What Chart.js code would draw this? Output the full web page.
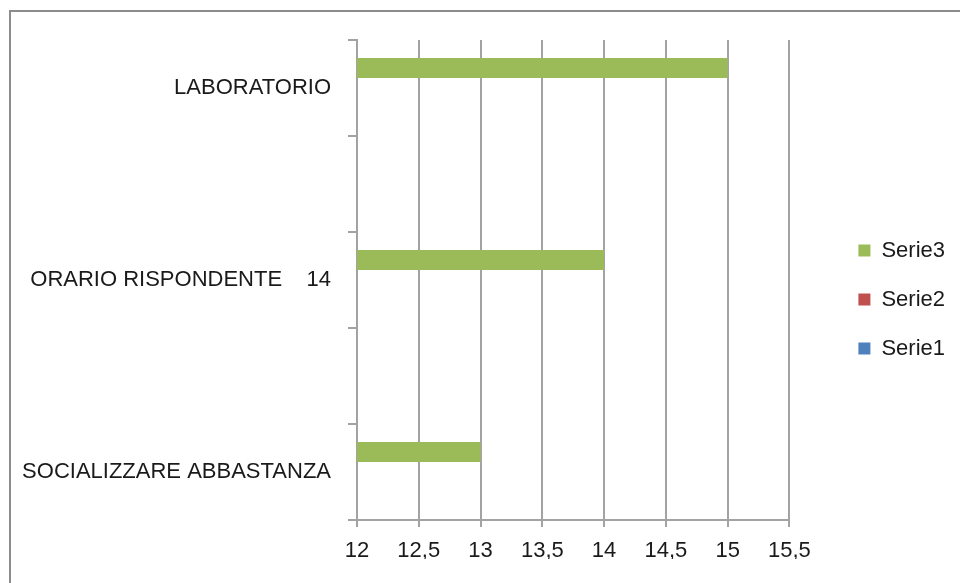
<!DOCTYPE html>
<html>
<head>
<meta charset="utf-8">
<script src="https://cdn.jsdelivr.net/npm/chart.js@4/dist/chart.umd.min.js"></script>
<style>
  html, body { margin: 0; padding: 0; background: #fff; }
  #wrap { width: 960px; height: 583px; position: relative; }
</style>
</head>
<body>
<div id="wrap"><canvas id="c" width="960" height="583"></canvas></div>
<script>
const categories = ['LABORATORIO', '', 'ORARIO RISPONDENTE    14', '', 'SOCIALIZZARE ABBASTANZA'];
const serie3 = [15, null, 14, null, 13];
const serie2 = [null, null, null, null, null];
const serie1 = [null, null, null, null, null];
const xTicksMin = 12;
const xTicksMax = 15.5;
const xTickStep = 0.5;

const FONT = "'Liberation Sans', Arial, sans-serif";
const GRID = '#a3a3a3';

const borderPlugin = {
  id: 'outerBorder',
  beforeDraw(chart) {
    const ctx = chart.ctx;
    ctx.save();
    ctx.strokeStyle = '#8c8c8c';
    ctx.lineWidth = 2;
    ctx.beginPath();
    ctx.moveTo(10, 600);
    ctx.lineTo(10, 11);
    ctx.lineTo(980, 11);
    ctx.stroke();
    ctx.restore();
  }
};

new Chart(document.getElementById('c'), {
  type: 'bar',
  data: {
    labels: categories,
    datasets: [
      { label: 'Serie3', data: serie3, backgroundColor: '#9BBB59' },
      { label: 'Serie2', data: serie2, backgroundColor: '#C0504D' },
      { label: 'Serie1', data: serie1, backgroundColor: '#4F81BD' }
    ]
  },
  options: {
    indexAxis: 'y',
    responsive: false,
    animation: false,
    categoryPercentage: 0.625,
    barPercentage: 1,
    layout: { padding: { top: 40, left: 0, right: 5, bottom: 24 } },
    plugins: {
      legend: {
        position: 'right',
        labels: {
          boxWidth: 12, boxHeight: 12, padding: 27,
          color: '#1a1a1a',
          font: { family: FONT, size: 22 }
        }
      },
      tooltip: { enabled: false }
    },
    scales: {
      x: {
        type: 'linear',
        min: xTicksMin, max: xTicksMax,
        ticks: {
          stepSize: xTickStep,
          color: '#1a1a1a',
          padding: 11,
          font: { family: FONT, size: 22 },
          callback: v => String(v).replace('.', ',')
        },
        grid: { color: GRID, lineWidth: 2, tickLength: 7 },
        border: { color: GRID, width: 2 },
        afterFit: s => { s.height = 39; }
      },
      y: {
        ticks: {
          color: '#1a1a1a',
          padding: 17,
          autoSkip: false,
          font: { family: FONT, size: 22 }
        },
        grid: { color: GRID, lineWidth: 2, tickLength: 9, drawOnChartArea: false, offset: true },
        border: { color: GRID, width: 2 },
        afterFit: s => { s.width = 357; }
      },
      gap: {
        type: 'linear',
        axis: 'y',
        position: 'right',
        display: true,
        ticks: { display: false },
        grid: { display: false, drawTicks: false },
        border: { display: false },
        afterFit: s => { s.width = 42; }
      }
    }
  },
  plugins: [borderPlugin]
});
</script>
</body>
</html>
